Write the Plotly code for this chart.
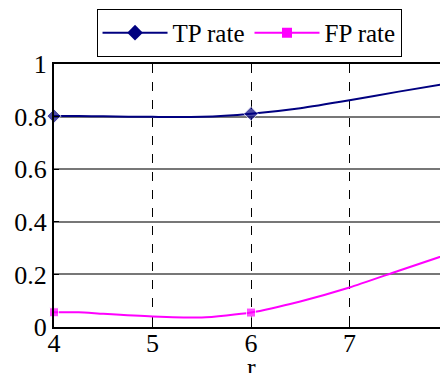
import plotly.graph_objects as go

r_values = [4, 4.25, 4.5, 5, 5.5, 6, 6.5, 7, 7.5, 8]
tp_rate = [0.802, 0.802, 0.801, 0.799, 0.799, 0.811, 0.832, 0.862, 0.895, 0.926]
fp_rate = [0.056, 0.056, 0.050, 0.040, 0.036, 0.055, 0.097, 0.150, 0.214, 0.277]
marker_at = [4, 6, 8]
x_ticks = [4, 5, 6, 7, 8]
y_ticks = [0, 0.2, 0.4, 0.6, 0.8, 1]
y_tick_text = ["0", "0.2", "0.4", "0.6", "0.8", "1"]
series_names = ["TP rate", "FP rate"]
x_title = "r"

sizes = [11 if x in marker_at else 0 for x in r_values]
sizes_sq = [9 if x in marker_at else 0 for x in r_values]

FONT = "Liberation Serif"
TP_COLOR = "#000080"
FP_COLOR = "#ff00ff"

fig = go.Figure()
fig.add_trace(go.Scatter(
    x=r_values, y=tp_rate, name=series_names[0], mode="lines+markers",
    line=dict(color=TP_COLOR, width=2, shape="spline", smoothing=0.6),
    marker=dict(symbol="diamond", size=sizes, color=TP_COLOR),
    cliponaxis=False, showlegend=False,
))
fig.add_trace(go.Scatter(
    x=r_values, y=fp_rate, name=series_names[1], mode="lines+markers",
    line=dict(color=FP_COLOR, width=2, shape="spline", smoothing=0.6),
    marker=dict(symbol="square", size=sizes_sq, color=FP_COLOR),
    cliponaxis=False, showlegend=False,
))
# legend entries (line + marker symbol)
fig.add_trace(go.Scatter(
    x=[None], y=[None], name=series_names[0], mode="lines+markers",
    line=dict(color=TP_COLOR, width=2),
    marker=dict(symbol="diamond", size=12, color=TP_COLOR),
))
fig.add_trace(go.Scatter(
    x=[None], y=[None], name=series_names[1], mode="lines+markers",
    line=dict(color=FP_COLOR, width=2),
    marker=dict(symbol="square", size=10, color=FP_COLOR),
))

fig.update_layout(
    width=440, height=365,
    margin=dict(l=46, r=0, t=56, b=46, autoexpand=False),
    paper_bgcolor="white", plot_bgcolor="white",
    font=dict(family=FONT, size=26, color="black"),
    showlegend=True,
    legend=dict(
        orientation="h", x=0.495, xanchor="center", y=1.027, yanchor="bottom",
        bordercolor="black", borderwidth=1, bgcolor="white",
        font=dict(family=FONT, size=25), itemwidth=65,
        tracegroupgap=0,
    ),
    xaxis=dict(
        range=[4, 8], tickvals=x_ticks, showgrid=True,
        gridcolor="black", griddash="dash", gridwidth=1,
        showline=True, linecolor="black", linewidth=2, mirror=True,
        zeroline=False, ticks="inside", ticklen=5, tickcolor="black",
        ticklabelstandoff=-8, automargin=False,
        tickfont=dict(family=FONT, size=26),
    ),
    yaxis=dict(
        range=[0, 1], tickvals=y_ticks, ticktext=y_tick_text, showgrid=True,
        gridcolor="#777777", gridwidth=1.5,
        showline=True, linecolor="black", linewidth=2,
        zeroline=False, ticks="inside", ticklen=5, tickcolor="black",
        ticklabelstandoff=0, automargin=False,
        tickfont=dict(family=FONT, size=26),
    ),
    annotations=[dict(
        text=x_title, xref="paper", yref="paper", x=0.5, y=-0.092,
        xanchor="center", yanchor="top", showarrow=False,
        font=dict(family=FONT, size=26, color="black"),
    )],
)

fig.write_html("out.html")
